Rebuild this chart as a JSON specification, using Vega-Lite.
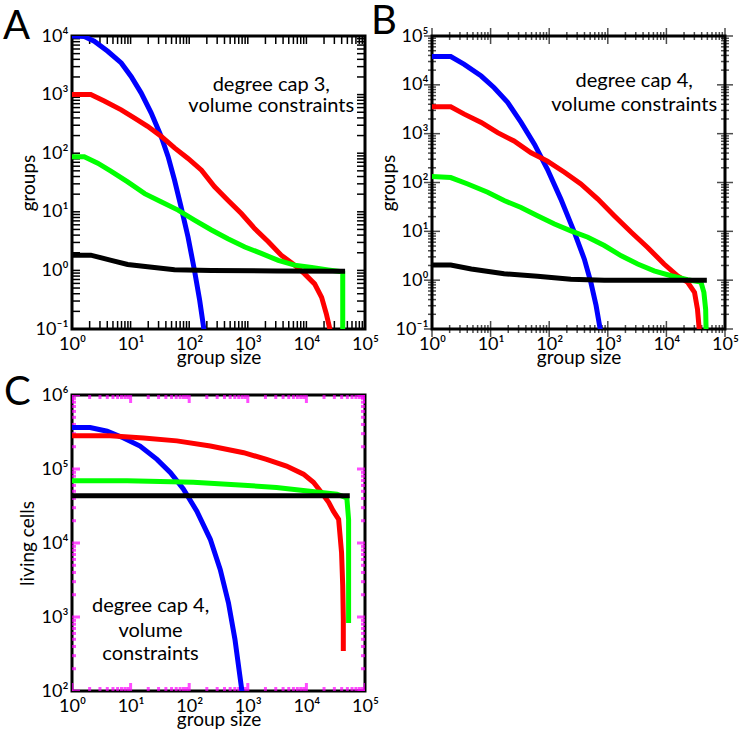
{
  "$schema": "https://vega.github.io/schema/vega-lite/v6.json",
  "padding": {"left": 1, "top": 0, "right": 5, "bottom": 5},
  "config": {
    "font": "Lato",
    "view": {"stroke": "#000000", "strokeWidth": 3},
    "axis": {
      "domain": false, "grid": false, "ticks": false, "tickSize": 0,
      "labelFont": "Lato", "labelFontSize": 18, "labelColor": "#000000",
      "titleFont": "Lato", "titleFontSize": 19, "titleFontWeight": "normal", "titleColor": "#000000",
      "labelOverlap": false, "labelFlush": false, "labelBound": false,
      "labelExpr": "'10' + ['⁻¹','⁰','¹','²','³','⁴','⁵','⁶'][round(log(datum.value)/LN10) + 1]"
    },
    "title": {"font": "Lato", "fontSize": 40, "fontWeight": "normal", "color": "#000000"}
  },
  "datasets": {
    "xt": [
      {"v":1,"m":1},{"v":2,"m":0},{"v":3,"m":0},{"v":4,"m":0},{"v":5,"m":0},{"v":6,"m":0},{"v":7,"m":0},{"v":8,"m":0},{"v":9,"m":0},
      {"v":10,"m":1},{"v":20,"m":0},{"v":30,"m":0},{"v":40,"m":0},{"v":50,"m":0},{"v":60,"m":0},{"v":70,"m":0},{"v":80,"m":0},{"v":90,"m":0},
      {"v":100,"m":1},{"v":200,"m":0},{"v":300,"m":0},{"v":400,"m":0},{"v":500,"m":0},{"v":600,"m":0},{"v":700,"m":0},{"v":800,"m":0},{"v":900,"m":0},
      {"v":1000,"m":1},{"v":2000,"m":0},{"v":3000,"m":0},{"v":4000,"m":0},{"v":5000,"m":0},{"v":6000,"m":0},{"v":7000,"m":0},{"v":8000,"m":0},{"v":9000,"m":0},
      {"v":10000,"m":1},{"v":20000,"m":0},{"v":30000,"m":0},{"v":40000,"m":0},{"v":50000,"m":0},{"v":60000,"m":0},{"v":70000,"m":0},{"v":80000,"m":0},{"v":90000,"m":0},
      {"v":100000,"m":1}
    ],
    "yt": [
      {"v":0.1,"m":1},{"v":0.2,"m":0},{"v":0.3,"m":0},{"v":0.4,"m":0},{"v":0.5,"m":0},{"v":0.6,"m":0},{"v":0.7,"m":0},{"v":0.8,"m":0},{"v":0.9,"m":0},
      {"v":1,"m":1},{"v":2,"m":0},{"v":3,"m":0},{"v":4,"m":0},{"v":5,"m":0},{"v":6,"m":0},{"v":7,"m":0},{"v":8,"m":0},{"v":9,"m":0},
      {"v":10,"m":1},{"v":20,"m":0},{"v":30,"m":0},{"v":40,"m":0},{"v":50,"m":0},{"v":60,"m":0},{"v":70,"m":0},{"v":80,"m":0},{"v":90,"m":0},
      {"v":100,"m":1},{"v":200,"m":0},{"v":300,"m":0},{"v":400,"m":0},{"v":500,"m":0},{"v":600,"m":0},{"v":700,"m":0},{"v":800,"m":0},{"v":900,"m":0},
      {"v":1000,"m":1},{"v":2000,"m":0},{"v":3000,"m":0},{"v":4000,"m":0},{"v":5000,"m":0},{"v":6000,"m":0},{"v":7000,"m":0},{"v":8000,"m":0},{"v":9000,"m":0},
      {"v":10000,"m":1},{"v":20000,"m":0},{"v":30000,"m":0},{"v":40000,"m":0},{"v":50000,"m":0},{"v":60000,"m":0},{"v":70000,"m":0},{"v":80000,"m":0},{"v":90000,"m":0},
      {"v":100000,"m":1},{"v":200000,"m":0},{"v":300000,"m":0},{"v":400000,"m":0},{"v":500000,"m":0},{"v":600000,"m":0},{"v":700000,"m":0},{"v":800000,"m":0},{"v":900000,"m":0},
      {"v":1000000,"m":1}
    ],
    "d": [
      {"p":"A","s":"blue","i":1,"x":1,"y":10000},{"p":"A","s":"blue","i":2,"x":1.62,"y":9772},{"p":"A","s":"blue","i":3,"x":2.4,"y":8128},{"p":"A","s":"blue","i":4,"x":4.07,"y":5495},{"p":"A","s":"blue","i":5,"x":6.92,"y":3467},{"p":"A","s":"blue","i":6,"x":10.2,"y":2042},{"p":"A","s":"blue","i":7,"x":15.1,"y":1072},{"p":"A","s":"blue","i":8,"x":22.4,"y":490},{"p":"A","s":"blue","i":9,"x":33.1,"y":195},{"p":"A","s":"blue","i":10,"x":43.7,"y":87.1},{"p":"A","s":"blue","i":11,"x":56.2,"y":34.7},{"p":"A","s":"blue","i":12,"x":72.4,"y":12.3},{"p":"A","s":"blue","i":13,"x":95.5,"y":3.72},{"p":"A","s":"blue","i":14,"x":123,"y":1},{"p":"A","s":"blue","i":15,"x":151,"y":0.309},{"p":"A","s":"blue","i":16,"x":178,"y":0.1},{"p":"A","s":"blue","i":17,"x":186,"y":0.07},
      {"p":"A","s":"red","i":1,"x":1,"y":1000},{"p":"A","s":"red","i":2,"x":2.09,"y":1000},{"p":"A","s":"red","i":3,"x":3.55,"y":776},{"p":"A","s":"red","i":4,"x":6.92,"y":550},{"p":"A","s":"red","i":5,"x":11.7,"y":398},{"p":"A","s":"red","i":6,"x":19.5,"y":288},{"p":"A","s":"red","i":7,"x":33.1,"y":195},{"p":"A","s":"red","i":8,"x":56.2,"y":123},{"p":"A","s":"red","i":9,"x":95.5,"y":81.3},{"p":"A","s":"red","i":10,"x":162,"y":51.3},{"p":"A","s":"red","i":11,"x":269,"y":26.9},{"p":"A","s":"red","i":12,"x":457,"y":15.8},{"p":"A","s":"red","i":13,"x":776,"y":9.33},{"p":"A","s":"red","i":14,"x":1318,"y":5.13},{"p":"A","s":"red","i":15,"x":2239,"y":3.09},{"p":"A","s":"red","i":16,"x":3715,"y":1.82},{"p":"A","s":"red","i":17,"x":6310,"y":1.23},{"p":"A","s":"red","i":18,"x":9333,"y":0.871},{"p":"A","s":"red","i":19,"x":13804,"y":0.589},{"p":"A","s":"red","i":20,"x":18197,"y":0.347},{"p":"A","s":"red","i":21,"x":21878,"y":0.182},{"p":"A","s":"red","i":22,"x":25119,"y":0.1},{"p":"A","s":"red","i":23,"x":25704,"y":0.079},
      {"p":"A","s":"green","i":1,"x":1,"y":87.1},{"p":"A","s":"green","i":2,"x":1.62,"y":87.1},{"p":"A","s":"green","i":3,"x":2.75,"y":67.6},{"p":"A","s":"green","i":4,"x":4.68,"y":49.0},{"p":"A","s":"green","i":5,"x":8.91,"y":32.4},{"p":"A","s":"green","i":6,"x":17.4,"y":20.4},{"p":"A","s":"green","i":7,"x":33.1,"y":14.8},{"p":"A","s":"green","i":8,"x":64.6,"y":10.7},{"p":"A","s":"green","i":9,"x":123,"y":7.24},{"p":"A","s":"green","i":10,"x":240,"y":4.9},{"p":"A","s":"green","i":11,"x":457,"y":3.47},{"p":"A","s":"green","i":12,"x":891,"y":2.51},{"p":"A","s":"green","i":13,"x":1698,"y":1.95},{"p":"A","s":"green","i":14,"x":3311,"y":1.48},{"p":"A","s":"green","i":15,"x":6310,"y":1.23},{"p":"A","s":"green","i":16,"x":12303,"y":1.12},{"p":"A","s":"green","i":17,"x":23442,"y":1.02},{"p":"A","s":"green","i":18,"x":39811,"y":0.95},{"p":"A","s":"green","i":19,"x":41687,"y":0.93},{"p":"A","s":"green","i":20,"x":41687,"y":0.063},
      {"p":"A","s":"black","i":1,"x":1,"y":1.82},{"p":"A","s":"black","i":2,"x":2.09,"y":1.82},{"p":"A","s":"black","i":3,"x":4.68,"y":1.48},{"p":"A","s":"black","i":4,"x":8.91,"y":1.26},{"p":"A","s":"black","i":5,"x":19.5,"y":1.15},{"p":"A","s":"black","i":6,"x":56.2,"y":1.03},{"p":"A","s":"black","i":7,"x":240,"y":1.0},{"p":"A","s":"black","i":8,"x":3162,"y":0.98},{"p":"A","s":"black","i":9,"x":45709,"y":0.97},
      {"p":"B","s":"blue","i":1,"x":1,"y":38019},{"p":"B","s":"blue","i":2,"x":2.09,"y":38019},{"p":"B","s":"blue","i":3,"x":3.55,"y":26303},{"p":"B","s":"blue","i":4,"x":6.92,"y":15136},{"p":"B","s":"blue","i":5,"x":11.5,"y":8710},{"p":"B","s":"blue","i":6,"x":19.5,"y":4365},{"p":"B","s":"blue","i":7,"x":33.1,"y":1698},{"p":"B","s":"blue","i":8,"x":56.2,"y":603},{"p":"B","s":"blue","i":9,"x":93.3,"y":186},{"p":"B","s":"blue","i":10,"x":158,"y":45.7},{"p":"B","s":"blue","i":11,"x":269,"y":9.55},{"p":"B","s":"blue","i":12,"x":398,"y":2.69},{"p":"B","s":"blue","i":13,"x":513,"y":0.912},{"p":"B","s":"blue","i":14,"x":631,"y":0.302},{"p":"B","s":"blue","i":15,"x":741,"y":0.1},{"p":"B","s":"blue","i":16,"x":776,"y":0.063},
      {"p":"B","s":"red","i":1,"x":1,"y":3548},{"p":"B","s":"red","i":2,"x":2.09,"y":3548},{"p":"B","s":"red","i":3,"x":3.55,"y":2512},{"p":"B","s":"red","i":4,"x":6.92,"y":1698},{"p":"B","s":"red","i":5,"x":13.2,"y":1047},{"p":"B","s":"red","i":6,"x":25.1,"y":708},{"p":"B","s":"red","i":7,"x":49.0,"y":407},{"p":"B","s":"red","i":8,"x":93.3,"y":275},{"p":"B","s":"red","i":9,"x":182,"y":162},{"p":"B","s":"red","i":10,"x":347,"y":93.3},{"p":"B","s":"red","i":11,"x":676,"y":45.7},{"p":"B","s":"red","i":12,"x":1288,"y":20.9},{"p":"B","s":"red","i":13,"x":2512,"y":9.55},{"p":"B","s":"red","i":14,"x":4786,"y":4.68},{"p":"B","s":"red","i":15,"x":9120,"y":2.14},{"p":"B","s":"red","i":16,"x":15488,"y":1.23},{"p":"B","s":"red","i":17,"x":22909,"y":0.912},{"p":"B","s":"red","i":18,"x":30200,"y":0.562},{"p":"B","s":"red","i":19,"x":33884,"y":0.257},{"p":"B","s":"red","i":20,"x":36308,"y":0.1},{"p":"B","s":"red","i":21,"x":36728,"y":0.063},
      {"p":"B","s":"green","i":1,"x":1,"y":132},{"p":"B","s":"green","i":2,"x":2.09,"y":126},{"p":"B","s":"green","i":3,"x":4.07,"y":93.3},{"p":"B","s":"green","i":4,"x":8.91,"y":63.1},{"p":"B","s":"green","i":5,"x":17.0,"y":42.7},{"p":"B","s":"green","i":6,"x":33.1,"y":30.9},{"p":"B","s":"green","i":7,"x":63.1,"y":20.9},{"p":"B","s":"green","i":8,"x":123,"y":14.1},{"p":"B","s":"green","i":9,"x":234,"y":10.2},{"p":"B","s":"green","i":10,"x":457,"y":7.59},{"p":"B","s":"green","i":11,"x":871,"y":5.13},{"p":"B","s":"green","i":12,"x":1698,"y":3.16},{"p":"B","s":"green","i":13,"x":3236,"y":2.14},{"p":"B","s":"green","i":14,"x":6166,"y":1.55},{"p":"B","s":"green","i":15,"x":12023,"y":1.23},{"p":"B","s":"green","i":16,"x":22909,"y":1.02},{"p":"B","s":"green","i":17,"x":38905,"y":0.912},{"p":"B","s":"green","i":18,"x":43652,"y":0.562},{"p":"B","s":"green","i":19,"x":46774,"y":0.251},{"p":"B","s":"green","i":20,"x":47863,"y":0.063},
      {"p":"B","s":"black","i":1,"x":1,"y":2.04},{"p":"B","s":"black","i":2,"x":2.09,"y":2.04},{"p":"B","s":"black","i":3,"x":4.68,"y":1.7},{"p":"B","s":"black","i":4,"x":17.0,"y":1.35},{"p":"B","s":"black","i":5,"x":63.1,"y":1.2},{"p":"B","s":"black","i":6,"x":234,"y":1.05},{"p":"B","s":"black","i":7,"x":871,"y":1.0},{"p":"B","s":"black","i":8,"x":48978,"y":1.0},
      {"p":"C","s":"blue","i":1,"x":1,"y":363078},{"p":"C","s":"blue","i":2,"x":2.04,"y":363078},{"p":"C","s":"blue","i":3,"x":3.98,"y":323594},{"p":"C","s":"blue","i":4,"x":7.59,"y":263027},{"p":"C","s":"blue","i":5,"x":14.5,"y":204174},{"p":"C","s":"blue","i":6,"x":28.2,"y":134896},{"p":"C","s":"blue","i":7,"x":47.9,"y":89125},{"p":"C","s":"blue","i":8,"x":79.4,"y":53703},{"p":"C","s":"blue","i":9,"x":135,"y":26915},{"p":"C","s":"blue","i":10,"x":229,"y":11220},{"p":"C","s":"blue","i":11,"x":339,"y":4365},{"p":"C","s":"blue","i":12,"x":468,"y":1549},{"p":"C","s":"blue","i":13,"x":603,"y":501},{"p":"C","s":"blue","i":14,"x":708,"y":195},{"p":"C","s":"blue","i":15,"x":794,"y":100},{"p":"C","s":"blue","i":16,"x":832,"y":63},
      {"p":"C","s":"red","i":1,"x":1,"y":281838},{"p":"C","s":"red","i":2,"x":4.47,"y":281838},{"p":"C","s":"red","i":3,"x":16.6,"y":263027},{"p":"C","s":"red","i":4,"x":61.7,"y":239883},{"p":"C","s":"red","i":5,"x":229,"y":204174},{"p":"C","s":"red","i":6,"x":851,"y":165959},{"p":"C","s":"red","i":7,"x":2089,"y":134896},{"p":"C","s":"red","i":8,"x":4571,"y":109648},{"p":"C","s":"red","i":9,"x":8913,"y":85114},{"p":"C","s":"red","i":10,"x":13183,"y":66069},{"p":"C","s":"red","i":11,"x":18197,"y":47863},{"p":"C","s":"red","i":12,"x":23988,"y":35481},{"p":"C","s":"red","i":13,"x":28840,"y":26915},{"p":"C","s":"red","i":14,"x":35481,"y":20893},{"p":"C","s":"red","i":15,"x":37154,"y":13804},{"p":"C","s":"red","i":16,"x":39811,"y":7413},{"p":"C","s":"red","i":17,"x":41687,"y":2630},{"p":"C","s":"red","i":18,"x":42658,"y":933},{"p":"C","s":"red","i":19,"x":42658,"y":347},
      {"p":"C","s":"green","i":1,"x":1,"y":69183},{"p":"C","s":"green","i":2,"x":8.71,"y":69183},{"p":"C","s":"green","i":3,"x":117,"y":66069},{"p":"C","s":"green","i":4,"x":851,"y":60256},{"p":"C","s":"green","i":5,"x":3090,"y":56234},{"p":"C","s":"green","i":6,"x":11482,"y":50119},{"p":"C","s":"green","i":7,"x":33113,"y":45709},{"p":"C","s":"green","i":8,"x":48978,"y":40738},{"p":"C","s":"green","i":9,"x":52481,"y":20893},{"p":"C","s":"green","i":10,"x":52481,"y":7413},{"p":"C","s":"green","i":11,"x":52481,"y":832},
      {"p":"C","s":"black","i":1,"x":1,"y":43652},{"p":"C","s":"black","i":2,"x":54954,"y":43652}
    ],
    "t": [
      {"p":"A","x":2512,"y":1479,"text":"degree cap 3,"},
      {"p":"A","x":2512,"y":631,"text":"volume constraints"},
      {"p":"B","x":2818,"y":12023,"text":"degree cap 4,"},
      {"p":"B","x":2818,"y":3802,"text":"volume constraints"},
      {"p":"C","x":21.9,"y":1413,"text":"degree cap 4,"},
      {"p":"C","x":21.9,"y":646,"text":"volume"},
      {"p":"C","x":21.9,"y":316,"text":"constraints"}
    ]
  },
  "columns": 2,
  "spacing": {"row": 66, "column": 67},
  "bounds": "flush",
  "concat": [
    {
      "width": 293, "height": 293,
      "title": {"text": "A", "anchor": "start", "frame": "group", "orient": "top", "offset": 0, "baseline": "alphabetic", "dx": -69, "dy": 52},
      "layer": [
        {"data": {"name": "xt"}, "mark": {"type": "rule", "clip": true, "color": "#000000", "strokeWidth": 1.5},
         "encoding": {"x": {"field": "v", "type": "quantitative", "scale": {"type": "log", "domain": [1, 100000], "nice": false},
             "axis": {"orient": "bottom", "labelPadding": 20, "labelBaseline": "alphabetic", "title": "group size", "titleY": 34, "titleBaseline": "alphabetic", "values": [1,10,100,1000,10000,100000]}},
           "y": {"datum": 0.1, "type": "quantitative", "scale": {"type": "log", "domain": [0.1, 10000], "nice": false},
             "axis": {"orient": "left", "labelPadding": 4, "title": "groups", "titleX": -34, "titleBaseline": "bottom", "values": [0.1,1,10,100,1000,10000]}},
           "y2": {"datum": 0.137}}},
        {"data": {"name": "xt"}, "mark": {"type": "rule", "clip": true, "color": "#000000", "strokeWidth": 1.5},
         "encoding": {"x": {"field": "v", "type": "quantitative"}, "y": {"datum": 10000, "type": "quantitative"}, "y2": {"datum": 7300}}},
        {"data": {"name": "yt"}, "transform": [{"filter": "datum.v <= 10000"}], "mark": {"type": "rule", "clip": true, "color": "#000000", "strokeWidth": 1.5},
         "encoding": {"y": {"field": "v", "type": "quantitative"}, "x": {"datum": 1, "type": "quantitative"}, "x2": {"datum": 1.37}}},
        {"data": {"name": "yt"}, "transform": [{"filter": "datum.v <= 10000"}], "mark": {"type": "rule", "clip": true, "color": "#000000", "strokeWidth": 1.5},
         "encoding": {"y": {"field": "v", "type": "quantitative"}, "x": {"datum": 100000, "type": "quantitative"}, "x2": {"datum": 73000}}},
        {
          "data": {"name": "d"},
          "transform": [{"filter": "datum.p == 'A'"}],
          "mark": {"type": "line", "strokeWidth": 5, "clip": true},
          "encoding": {
            "x": {"field": "x", "type": "quantitative"},
            "y": {"field": "y", "type": "quantitative"},
            "color": {"field": "s", "type": "nominal", "scale": {"domain": ["blue","red","green","black"], "range": ["#0000ff","#ff0000","#00ff00","#000000"]}, "legend": null},
            "order": {"field": "i", "type": "quantitative"}
          }
        },
        {
          "data": {"name": "t"},
          "transform": [{"filter": "datum.p == 'A'"}],
          "mark": {"type": "text", "fontSize": 20, "font": "Lato", "color": "#000000", "align": "center", "baseline": "middle"},
          "encoding": {
            "x": {"field": "x", "type": "quantitative"},
            "y": {"field": "y", "type": "quantitative"},
            "text": {"field": "text", "type": "nominal"}
          }
        }
      ]
    },
    {
      "width": 293, "height": 293,
      "title": {"text": "B", "anchor": "start", "frame": "group", "orient": "top", "offset": 0, "baseline": "alphabetic", "dx": -61, "dy": 47},
      "layer": [
        {"data": {"name": "xt"}, "mark": {"type": "tick", "orient": "vertical", "clip": false, "color": "#000000", "thickness": 1.5},
         "encoding": {"x": {"field": "v", "type": "quantitative", "scale": {"type": "log", "domain": [1, 100000], "nice": false},
             "axis": {"orient": "bottom", "labelPadding": 20, "labelBaseline": "alphabetic", "title": "group size", "titleY": 34, "titleBaseline": "alphabetic", "values": [1,10,100,1000,10000,100000]}},
           "y": {"datum": 0.1, "type": "quantitative", "scale": {"type": "log", "domain": [0.1, 100000], "nice": false},
             "axis": {"orient": "left", "labelPadding": 4, "title": "groups", "titleX": -34, "titleBaseline": "bottom", "values": [0.1,1,10,100,1000,10000,100000]}},
           "size": {"field": "m", "type": "ordinal", "scale": {"domain": [0, 1], "range": [8, 16]}, "legend": null}}},
        {"data": {"name": "xt"}, "mark": {"type": "tick", "orient": "vertical", "clip": false, "color": "#000000", "thickness": 1.5},
         "encoding": {"x": {"field": "v", "type": "quantitative"},
           "y": {"datum": 100000, "type": "quantitative"},
           "size": {"field": "m", "type": "ordinal", "scale": {"domain": [0, 1], "range": [8, 16]}, "legend": null}}},
        {"data": {"name": "yt"}, "transform": [{"filter": "datum.v <= 100000"}], "mark": {"type": "tick", "orient": "horizontal", "clip": false, "color": "#000000", "thickness": 1.5},
         "encoding": {"y": {"field": "v", "type": "quantitative"},
           "x": {"datum": 1, "type": "quantitative"},
           "size": {"field": "m", "type": "ordinal", "scale": {"domain": [0, 1], "range": [8, 16]}, "legend": null}}},
        {"data": {"name": "yt"}, "transform": [{"filter": "datum.v <= 100000"}], "mark": {"type": "tick", "orient": "horizontal", "clip": false, "color": "#000000", "thickness": 1.5},
         "encoding": {"y": {"field": "v", "type": "quantitative"},
           "x": {"datum": 100000, "type": "quantitative"},
           "size": {"field": "m", "type": "ordinal", "scale": {"domain": [0, 1], "range": [8, 16]}, "legend": null}}},
        {
          "data": {"name": "d"},
          "transform": [{"filter": "datum.p == 'B'"}],
          "mark": {"type": "line", "strokeWidth": 5, "clip": true},
          "encoding": {
            "x": {"field": "x", "type": "quantitative"},
            "y": {"field": "y", "type": "quantitative"},
            "color": {"field": "s", "type": "nominal", "scale": {"domain": ["blue","red","green","black"], "range": ["#0000ff","#ff0000","#00ff00","#000000"]}, "legend": null},
            "order": {"field": "i", "type": "quantitative"}
          }
        },
        {
          "data": {"name": "t"},
          "transform": [{"filter": "datum.p == 'B'"}],
          "mark": {"type": "text", "fontSize": 20, "font": "Lato", "color": "#000000", "align": "center", "baseline": "middle"},
          "encoding": {
            "x": {"field": "x", "type": "quantitative"},
            "y": {"field": "y", "type": "quantitative"},
            "text": {"field": "text", "type": "nominal"}
          }
        }
      ]
    },
    {
      "width": 293, "height": 296,
      "title": {"text": "C", "anchor": "start", "frame": "group", "orient": "top", "offset": 0, "baseline": "alphabetic", "dx": -68, "dy": 59},
      "layer": [
        {"data": {"name": "xt"}, "mark": {"type": "tick", "orient": "vertical", "clip": true, "color": "#ff00ff", "thickness": 3},
         "encoding": {"x": {"field": "v", "type": "quantitative", "scale": {"type": "log", "domain": [1, 100000], "nice": false},
             "axis": {"orient": "bottom", "labelPadding": 20, "labelBaseline": "alphabetic", "title": "group size", "titleY": 34, "titleBaseline": "alphabetic", "values": [1,10,100,1000,10000,100000]}},
           "y": {"datum": 100, "type": "quantitative", "scale": {"type": "log", "domain": [100, 1000000], "nice": false},
             "axis": {"orient": "left", "labelPadding": 4, "title": "living cells", "titleX": -35, "titleBaseline": "bottom", "values": [100,1000,10000,100000,1000000]}},
           "size": {"field": "m", "type": "ordinal", "scale": {"domain": [0, 1], "range": [8, 16]}, "legend": null}}},
        {"data": {"name": "xt"}, "mark": {"type": "tick", "orient": "vertical", "clip": true, "color": "#ff00ff", "thickness": 3},
         "encoding": {"x": {"field": "v", "type": "quantitative"},
           "y": {"datum": 1000000, "type": "quantitative"},
           "size": {"field": "m", "type": "ordinal", "scale": {"domain": [0, 1], "range": [8, 16]}, "legend": null}}},
        {"data": {"name": "yt"}, "transform": [{"filter": "datum.v >= 100"}], "mark": {"type": "tick", "orient": "horizontal", "clip": true, "color": "#ff00ff", "thickness": 3},
         "encoding": {"y": {"field": "v", "type": "quantitative"},
           "x": {"datum": 1, "type": "quantitative"},
           "size": {"field": "m", "type": "ordinal", "scale": {"domain": [0, 1], "range": [8, 16]}, "legend": null}}},
        {"data": {"name": "yt"}, "transform": [{"filter": "datum.v >= 100"}], "mark": {"type": "tick", "orient": "horizontal", "clip": true, "color": "#ff00ff", "thickness": 3},
         "encoding": {"y": {"field": "v", "type": "quantitative"},
           "x": {"datum": 100000, "type": "quantitative"},
           "size": {"field": "m", "type": "ordinal", "scale": {"domain": [0, 1], "range": [8, 16]}, "legend": null}}},
        {
          "data": {"name": "d"},
          "transform": [{"filter": "datum.p == 'C'"}],
          "mark": {"type": "line", "strokeWidth": 5, "clip": true},
          "encoding": {
            "x": {"field": "x", "type": "quantitative"},
            "y": {"field": "y", "type": "quantitative"},
            "color": {"field": "s", "type": "nominal", "scale": {"domain": ["blue","red","green","black"], "range": ["#0000ff","#ff0000","#00ff00","#000000"]}, "legend": null},
            "order": {"field": "i", "type": "quantitative"}
          }
        },
        {
          "data": {"name": "t"},
          "transform": [{"filter": "datum.p == 'C'"}],
          "mark": {"type": "text", "fontSize": 20, "font": "Lato", "color": "#000000", "align": "center", "baseline": "middle"},
          "encoding": {
            "x": {"field": "x", "type": "quantitative"},
            "y": {"field": "y", "type": "quantitative"},
            "text": {"field": "text", "type": "nominal"}
          }
        }
      ]
    }
  ]
}
